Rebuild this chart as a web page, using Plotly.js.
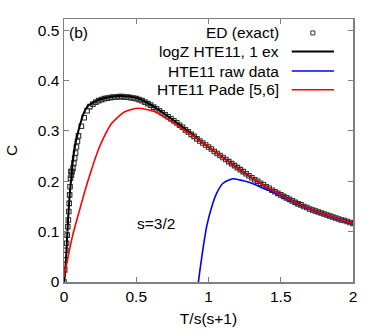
<!DOCTYPE html>
<html>
<head>
<meta charset="utf-8">
<script src="https://cdn.plot.ly/plotly-3.0.1.min.js"></script>
<style>
  html, body { margin: 0; padding: 0; background: #fff; }
  #plot { width: 382px; height: 334px; }
</style>
</head>
<body>
<div id="plot"></div>
<script>
// ED (exact) points
const ed_t = [0, 0.005, 0.009, 0.013, 0.018, 0.022, 0.026, 0.03, 0.033, 0.036, 0.039, 0.042, 0.045, 0.048, 0.051, 0.056, 0.062, 0.068, 0.074, 0.08, 0.086, 0.093,
    0.10, 0.12, 0.14, 0.16, 0.18, 0.20, 0.22, 0.24, 0.26, 0.28, 0.30, 0.32, 0.34, 0.36, 0.38, 0.40, 0.42, 0.44, 0.46, 0.48,
    0.50, 0.52, 0.54, 0.56, 0.58, 0.60, 0.62, 0.64, 0.66, 0.68, 0.70, 0.72, 0.74, 0.76, 0.78, 0.80, 0.82, 0.84, 0.86, 0.88,
    0.90, 0.92, 0.94, 0.96, 0.98, 1.00, 1.02, 1.04, 1.06, 1.08, 1.10, 1.12, 1.14, 1.16, 1.18, 1.20, 1.22, 1.24, 1.26, 1.28,
    1.30, 1.32, 1.34, 1.36, 1.38, 1.40, 1.42, 1.44, 1.46, 1.48, 1.50, 1.52, 1.54, 1.56, 1.58, 1.60, 1.62, 1.64, 1.66, 1.68,
    1.70, 1.72, 1.74, 1.76, 1.78, 1.80, 1.82, 1.84, 1.86, 1.88, 1.90, 1.92, 1.94, 1.96, 1.98, 2.00];
const ed_c = [0, 0.024, 0.044, 0.063, 0.077, 0.093, 0.110, 0.123, 0.140, 0.156, 0.173, 0.189, 0.206, 0.219, 0.212, 0.219, 0.226, 0.236, 0.246, 0.256, 0.268, 0.279,
    0.290, 0.309, 0.326, 0.340, 0.348, 0.353, 0.357, 0.360, 0.362, 0.364, 0.365, 0.366, 0.367, 0.367, 0.368, 0.368, 0.367, 0.367, 0.366, 0.365,
    0.364, 0.362, 0.360, 0.357, 0.354, 0.351, 0.347, 0.344, 0.340, 0.336, 0.332, 0.328, 0.324, 0.320, 0.316, 0.311, 0.307, 0.302, 0.298, 0.293,
    0.289, 0.284, 0.280, 0.276, 0.272, 0.268, 0.264, 0.259, 0.255, 0.251, 0.247, 0.243, 0.239, 0.235, 0.231, 0.227, 0.223, 0.219, 0.215, 0.211,
    0.207, 0.203, 0.200, 0.196, 0.193, 0.189, 0.186, 0.182, 0.179, 0.176, 0.173, 0.170, 0.167, 0.164, 0.161, 0.158, 0.155, 0.153, 0.150, 0.148,
    0.145, 0.143, 0.141, 0.139, 0.137, 0.135, 0.133, 0.131, 0.129, 0.127, 0.125, 0.123, 0.122, 0.120, 0.118, 0.116];

// logZ HTE11, 1 ex
const logz_t = [0, 0.005, 0.016, 0.028, 0.04, 0.05, 0.062, 0.076, 0.097, 0.12, 0.135, 0.15, 0.166, 0.2, 0.235, 0.3, 0.376, 0.45, 0.515, 0.6, 0.7, 0.8, 0.9, 1.0, 1.1, 1.2, 1.3, 1.4, 1.5, 1.6, 1.7, 1.8, 1.9, 2.0];
const logz_c = [0, 0.010, 0.057, 0.123, 0.175, 0.205, 0.242, 0.270, 0.297, 0.321, 0.334, 0.343, 0.350, 0.356, 0.361, 0.366, 0.369, 0.368, 0.364, 0.352, 0.333, 0.312, 0.290, 0.268, 0.247, 0.227, 0.207, 0.189, 0.173, 0.158, 0.145, 0.135, 0.125, 0.116];

// HTE11 raw data
const raw_t = [0.915, 0.93, 0.941, 0.964, 0.987, 1.022, 1.056, 1.10, 1.17, 1.24, 1.29, 1.38, 1.43, 1.5, 1.6, 1.7, 1.8, 1.9, 2.0];
const raw_c = [-0.04, 0.0, 0.024, 0.070, 0.110, 0.149, 0.176, 0.196, 0.205, 0.201, 0.197, 0.186, 0.180, 0.171, 0.157, 0.144, 0.134, 0.124, 0.115];

// HTE11 Pade [5,6]
const pade_t = [0, 0.005, 0.028, 0.062, 0.1, 0.145, 0.189, 0.237, 0.272, 0.33, 0.42, 0.515, 0.63, 0.745, 0.85, 0.9, 1.0, 1.1, 1.2, 1.3, 1.4, 1.5, 1.6, 1.7, 1.8, 1.9, 2.0];
const pade_c = [0.010, 0.017, 0.050, 0.095, 0.135, 0.181, 0.222, 0.262, 0.285, 0.315, 0.338, 0.345, 0.338, 0.318, 0.298, 0.289, 0.268, 0.247, 0.227, 0.207, 0.189, 0.173, 0.158, 0.145, 0.135, 0.125, 0.116];

const legend_names = ["ED (exact)", "logZ HTE11, 1 ex", "HTE11 raw data", "HTE11 Pade [5,6]"];
const legend_colors = ["#333", "#000000", "#0000ff", "#ff0000"];

const font_family = "Liberation Sans, Arial, sans-serif";

const data = [
    {
        x: ed_t, y: ed_c, mode: "markers", type: "scatter",
        marker: { symbol: "square-open", size: 4.5, color: "#333", line: { width: 1.1 } }
    },
    {
        x: logz_t, y: logz_c, mode: "lines", type: "scatter",
        line: { color: "#000", width: 2, shape: "spline", smoothing: 0.6 }
    },
    {
        x: raw_t, y: raw_c, mode: "lines", type: "scatter",
        line: { color: "#0000ff", width: 1.6, shape: "spline", smoothing: 0.6 }
    },
    {
        x: pade_t, y: pade_c, mode: "lines", type: "scatter",
        line: { color: "#ff0000", width: 1.6, shape: "spline", smoothing: 0.6 }
    }
];

// gnuplot style key: text right-aligned, sample on the right
const key_y = [0.947, 0.876, 0.802, 0.731];
const annotations = legend_names.map((name, i) => ({
    xref: "paper", yref: "paper", x: 0.751, y: key_y[i],
    xanchor: "right", yanchor: "middle", text: name, showarrow: false,
    font: { family: font_family, size: 15.5, color: "#000" }
}));
annotations.push({
    xref: "x", yref: "y", x: 0.637, y: 0.117, text: "s=3/2", showarrow: false,
    font: { family: font_family, size: 15.5, color: "#000" }
});
annotations.push({
    xref: "paper", yref: "paper", x: 0.012, y: 0.95, xanchor: "left", yanchor: "middle",
    text: "(b)", showarrow: false,
    font: { family: font_family, size: 15.5, color: "#000" }
});

const shapes = [];
shapes.push({
    type: "rect", xref: "paper", yref: "paper", xsizemode: "pixel", ysizemode: "pixel",
    xanchor: 0.861, yanchor: key_y[0], x0: -2, x1: 2, y0: -2, y1: 2,
    line: { color: legend_colors[0], width: 1 }, fillcolor: "rgba(0,0,0,0)"
});
for (let i = 1; i < 4; i++) {
    shapes.push({
        type: "line", xref: "paper", yref: "paper", x0: 0.788, x1: 0.934, y0: key_y[i], y1: key_y[i],
        line: { color: legend_colors[i], width: i === 1 ? 2 : 1.6 }
    });
}

const layout = {
    width: 382,
    height: 334,
    margin: { l: 64, r: 29, t: 19, b: 52 },
    paper_bgcolor: "#fff",
    plot_bgcolor: "#fff",
    showlegend: false,
    font: { family: font_family, size: 15.5, color: "#000" },
    xaxis: {
        range: [0, 2], dtick: 0.5, tick0: 0,
        showgrid: false, zeroline: false,
        showline: true, mirror: "ticks", linecolor: "#808080", linewidth: 1.5,
        ticks: "inside", ticklen: 5, tickcolor: "#808080",
        title: { text: "T/s(s+1)", standoff: 9, font: { size: 15.5 } }
    },
    yaxis: {
        range: [0, 0.522], dtick: 0.1, tick0: 0,
        showgrid: false, zeroline: false,
        showline: true, mirror: "ticks", linecolor: "#808080", linewidth: 1.5,
        ticks: "inside", ticklen: 5, tickcolor: "#808080",
        title: { text: "C", standoff: 16, font: { size: 15.5 } }
    },
    annotations: annotations,
    shapes: shapes
};

const config = { responsive: false, displayModeBar: false, staticPlot: true };

window.addEventListener("load", () => {
    Plotly.newPlot("plot", data, layout, config);
});
</script>
</body>
</html>
